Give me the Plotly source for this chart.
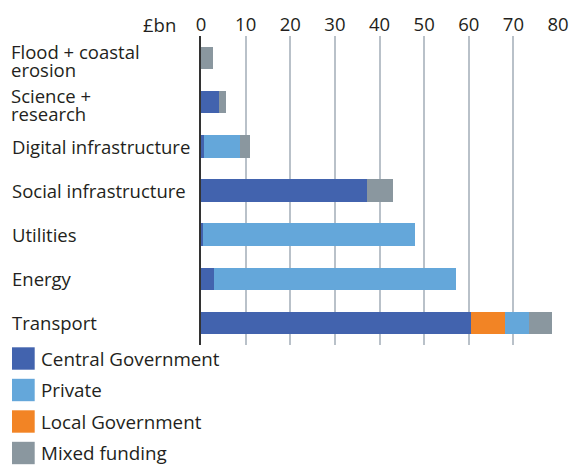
import plotly.graph_objects as go

# sectors, top to bottom
sectors = ["Flood + coastal<br>erosion", "Science +<br>research", "Digital infrastructure",
           "Social infrastructure", "Utilities", "Energy", "Transport"]

# £bn by funding source
central = [0.0, 4.0, 0.7, 37.3, 0.4, 2.9, 60.4]
local = [0.0, 0.0, 0.0, 0.0, 0.0, 0.0, 7.7]
private = [0.0, 0.0, 8.1, 0.0, 47.5, 54.2, 5.3]
mixed = [2.6, 1.6, 2.2, 5.8, 0.0, 0.0, 5.2]

series_names = ["Central Government", "Local Government", "Private", "Mixed funding"]
series_values = [central, local, private, mixed]
colors = {"Central Government": "#4263ae", "Private": "#64a7da",
          "Local Government": "#f28425", "Mixed funding": "#8a979f"}
legend_order = ["Central Government", "Private", "Local Government", "Mixed funding"]

x_ticks = [0, 10, 20, 30, 40, 50, 60, 70, 80]

FONT = "Open Sans"
FS = 18.5
TXT = "#231f20"

fig = go.Figure()
for name, vals in zip(series_names, series_values):
    fig.add_trace(go.Bar(y=sectors, x=vals, orientation="h", name=name,
                         marker=dict(color=colors[name], line_width=0),
                         width=0.51, showlegend=False))

fig.update_layout(
    barmode="stack",
    width=570, height=466,
    margin=dict(l=201, r=12, t=36, b=121),
    paper_bgcolor="white", plot_bgcolor="white",
    font=dict(family=FONT, size=FS, color=TXT),
    xaxis=dict(range=[0, 80], side="top", tickvals=x_ticks, showgrid=True,
               gridcolor="#b9c1c9", gridwidth=1.5, zeroline=False, automargin=False,
               tickfont=dict(size=FS, color=TXT), ticks="", ticklabelstandoff=0),
    yaxis=dict(autorange="reversed", showticklabels=False, showgrid=False, automargin=False,
               showline=True, linecolor="#333333", linewidth=1.5, ticks=""),
)

# left-aligned category labels, two-line ones set line by line (tight leading)
for s in sectors:
    lines = s.split("<br>")
    if len(lines) == 1:
        fig.add_annotation(x=(10 - 201) / 357, xref="paper", y=s, yref="y", text=s,
                           showarrow=False, xanchor="left", yanchor="middle",
                           font=dict(size=FS, color=TXT, family=FONT))
        continue
    for line, dy in zip(lines, [7.5, -11]):
        fig.add_annotation(x=(10 - 201) / 357, xref="paper", y=s, yref="y", text=line,
                           yshift=dy, showarrow=False, xanchor="left", yanchor="middle",
                           height=18, borderpad=0, valign="middle",
                           font=dict(size=FS, color=TXT, family=FONT))

fig.add_annotation(x=(178 - 201) / 357, xref="paper", y=1.0, yref="paper", yshift=12,
                   text="£bn", showarrow=False, xanchor="right", yanchor="middle",
                   font=dict(size=FS, color=TXT, family=FONT))

# legend drawn below the chart
H = 466
for i, name in enumerate(legend_order):
    yc = 358.5 + i * 31.5
    fig.add_shape(type="rect", xref="paper", yref="paper",
                  x0=(12 - 201) / 357, x1=(34.7 - 201) / 357,
                  y0=(H - 121 - (yc - 11.2)) / 309, y1=(H - 121 - (yc + 11.2)) / 309,
                  fillcolor=colors[name], line_width=0)
    fig.add_annotation(x=(39 - 201) / 357, xref="paper", y=(H - 121 - yc) / 309, yref="paper",
                       text=name, showarrow=False, xanchor="left", yanchor="middle",
                       font=dict(size=18.8, color=TXT, family=FONT))

fig.write_html("out.html", config={"displayModeBar": False},
               post_script="document.body.style.margin='0';")
